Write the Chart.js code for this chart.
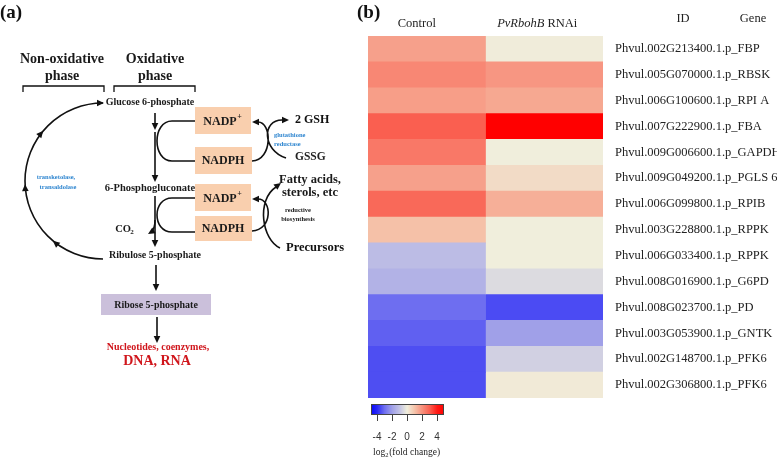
<!DOCTYPE html>
<html>
<head>
<meta charset="utf-8">
<script src="https://cdn.jsdelivr.net/npm/chart.js@4"></script>
<style>
  body { margin: 0; background: #fff; }
</style>
</head>
<body>
<canvas id="heat" width="777" height="459"></canvas>
<script>
// genes (row labels) and log2 fold change
var genes = [
  "Phvul.002G213400.1.p_FBP",
  "Phvul.005G070000.1.p_RBSK",
  "Phvul.006G100600.1.p_RPI A",
  "Phvul.007G222900.1.p_FBA",
  "Phvul.009G006600.1.p_GAPDH",
  "Phvul.009G049200.1.p_PGLS 6",
  "Phvul.006G099800.1.p_RPIB",
  "Phvul.003G228800.1.p_RPPK",
  "Phvul.006G033400.1.p_RPPK",
  "Phvul.008G016900.1.p_G6PD",
  "Phvul.008G023700.1.p_PD",
  "Phvul.003G053900.1.p_GNTK",
  "Phvul.002G148700.1.p_PFK6",
  "Phvul.002G306800.1.p_PFK6"
];
var controlFC = [1.7, 2.2, 1.75, 3.0, 2.5, 1.7, 2.8, 1.05, -1.2, -1.5, -3.0, -3.2, -3.45, -3.45];
var rnaiFC = [0.05, 1.9, 1.55, 5.0, 0.0, 0.45, 1.4, 0.0, 0.0, -0.45, -3.5, -2.0, -0.7, 0.1];
var colorTicks = [-4, -2, 0, 2, 4];

// colour scale stops (value, rgb)
var stops = [
  [-5, [0, 0, 255]], [-4, [40, 40, 245]], [-3, [110, 110, 240]], [-2, [160, 160, 232]],
  [-1, [195, 195, 228]], [0, [240, 238, 220]], [1, [245, 195, 170]], [2, [247, 145, 125]],
  [3, [250, 95, 80]], [4, [255, 25, 20]], [5, [255, 0, 0]]
];
function colorFor(v) {
  if (v <= stops[0][0]) return "rgb(" + stops[0][1].join(",") + ")";
  for (var i = 1; i < stops.length; i++) {
    if (v <= stops[i][0]) {
      var a = stops[i - 1], b = stops[i];
      var t = (v - a[0]) / (b[0] - a[0]);
      var c = a[1].map(function (x, k) { return Math.round(x + (b[1][k] - x) * t); });
      return "rgb(" + c.join(",") + ")";
    }
  }
  return "rgb(" + stops[stops.length - 1][1].join(",") + ")";
}

var serif = "'Liberation Serif', 'Times New Roman', serif";

function txt(c, s, x, y, font, color, align) {
  c.font = font;
  c.fillStyle = color || "#1a1a1a";
  c.textAlign = align || "center";
  c.textBaseline = "middle";
  c.fillText(s, x, y);
}
function head(c, x, y, ang) {
  c.save();
  c.fillStyle = "#111";
  c.translate(x, y);
  c.rotate(ang);
  c.beginPath();
  c.moveTo(0, 0);
  c.lineTo(-7, -3.3);
  c.lineTo(-7, 3.3);
  c.closePath();
  c.fill();
  c.restore();
}
function line(c, pts) {
  c.beginPath();
  c.moveTo(pts[0], pts[1]);
  c.lineTo(pts[2], pts[3]);
  c.stroke();
}
function nadp(c, x, y) {
  var f = "bold 12px " + serif;
  c.font = f;
  var w = c.measureText("NADP").width;
  txt(c, "NADP", x - 3 - w / 2, y + 1, f, "#1a1a1a", "left");
  txt(c, "+", x - 3 + w / 2 + 0.5, y - 4, "bold 8px " + serif, "#1a1a1a", "left");
}

// panel (a) pathway and panel (b) headers / colour key
var extras = {
  id: "extras",
  afterDraw: function (chart) {
    var c = chart.ctx;
    var xs = chart.scales.x;
    c.save();
    c.strokeStyle = "#111";
    c.fillStyle = "#111";
    c.lineWidth = 1.6;

    // ---- panel (a) ----
    txt(c, "(a)", 0, 13, "bold 19px " + serif, "#111", "left");
    txt(c, "Non-oxidative", 62, 59, "bold 14px " + serif);
    txt(c, "phase", 62, 76, "bold 14px " + serif);
    txt(c, "Oxidative", 155, 59, "bold 14px " + serif);
    txt(c, "phase", 155, 76, "bold 14px " + serif);
    c.lineWidth = 1.3;
    c.beginPath();
    c.moveTo(23, 92); c.lineTo(23, 86); c.lineTo(104, 86); c.lineTo(104, 92);
    c.moveTo(114, 92); c.lineTo(114, 86); c.lineTo(195, 86); c.lineTo(195, 92);
    c.stroke();
    c.lineWidth = 1.6;

    txt(c, "Glucose 6-phosphate", 150, 102, "bold 10px " + serif);
    line(c, [155, 113, 155, 124]); head(c, 155, 130, Math.PI / 2);
    line(c, [155, 132, 155, 176]); head(c, 155, 182, Math.PI / 2);
    txt(c, "6-Phosphogluconate", 150, 188, "bold 10.5px " + serif);
    line(c, [155, 196, 155, 241]); head(c, 155, 247, Math.PI / 2);
    txt(c, "Ribulose 5-phosphate", 155, 255, "bold 10px " + serif);
    line(c, [156, 265, 156, 285]); head(c, 156, 291, Math.PI / 2);

    // boxes
    c.fillStyle = "#f9cfae";
    c.fillRect(195, 107, 56, 27);
    c.fillRect(195, 147, 57, 27);
    c.fillRect(195, 184, 56, 27);
    c.fillRect(195, 216, 57, 25);
    c.fillStyle = "#cbc0db";
    c.fillRect(101, 294, 110, 21);
    c.fillStyle = "#111";
    nadp(c, 223, 121);
    txt(c, "NADPH", 223, 161, "bold 12px " + serif);
    nadp(c, 223, 198);
    txt(c, "NADPH", 223, 229, "bold 12px " + serif);
    txt(c, "Ribose 5-phosphate", 156, 305, "bold 10px " + serif);

    // C-shaped curves on the left of the boxes
    c.beginPath();
    c.moveTo(195, 121); c.lineTo(172, 121);
    c.bezierCurveTo(152, 121, 152, 161, 172, 161); c.lineTo(195, 161);
    c.moveTo(195, 198); c.lineTo(172, 198);
    c.bezierCurveTo(152, 198, 152, 232, 172, 232); c.lineTo(195, 232);
    c.stroke();

    // right side curves
    c.beginPath();
    c.moveTo(252, 161); c.bezierCurveTo(273, 160, 272, 122, 258, 122);
    c.moveTo(286, 158); c.bezierCurveTo(262, 150, 262, 120, 282, 120);
    c.moveTo(252, 231); c.bezierCurveTo(273, 230, 272, 199, 258, 199);
    c.moveTo(280, 248); c.bezierCurveTo(262, 240, 256, 200, 276, 187);
    c.stroke();
    head(c, 252, 122, Math.PI);
    head(c, 289, 120, 0);
    head(c, 252, 199, Math.PI);
    head(c, 281, 183, -0.65);

    txt(c, "2 GSH", 295, 120, "bold 12px " + serif, "#111", "left");
    txt(c, "GSSG", 295, 157, "bold 11.5px " + serif, "#222", "left");
    txt(c, "glutathione", 274, 135, "bold 6.5px " + serif, "#2f86d0", "left");
    txt(c, "reductase", 274, 144, "bold 6.5px " + serif, "#2f86d0", "left");
    txt(c, "Fatty acids,", 310, 180, "bold 12.5px " + serif);
    txt(c, "sterols, etc", 310, 193, "bold 12.5px " + serif);
    txt(c, "reductive", 298, 210, "bold 6.5px " + serif);
    txt(c, "biosynthesis", 298, 219, "bold 6.5px " + serif);
    txt(c, "Precursors", 286, 248, "bold 12.5px " + serif, "#111", "left");

    // CO2 branch
    txt(c, "CO", 123, 229, "bold 10.5px " + serif);
    txt(c, "2", 132, 232, "bold 7px " + serif);
    c.beginPath();
    c.moveTo(155, 220); c.quadraticCurveTo(155, 229, 151, 232);
    c.stroke();
    head(c, 148, 234, 2.6);

    // ribose -> nucleotides
    line(c, [157, 317, 157, 337]); head(c, 157, 343, Math.PI / 2);
    txt(c, "Nucleotides, coenzymes,", 158, 347, "bold 10px " + serif, "#d0161c");
    txt(c, "DNA, RNA", 157, 361, "bold 14px " + serif, "#d0161c");

    // non-oxidative cycle
    var cx = 103, cy = 181, r = 78;
    c.beginPath();
    c.arc(cx, cy, r, Math.PI / 2, Math.PI * 1.5);
    c.stroke();
    head(c, 104, 103, 0);
    [2.27, 3.1, 3.84].forEach(function (t) {
      head(c, cx + r * Math.cos(t), cy + r * Math.sin(t), t + Math.PI / 2);
    });
    txt(c, "transketolase,", 56, 177, "bold 6.5px " + serif, "#2f86d0");
    txt(c, "transaldolase", 58, 187, "bold 6.5px " + serif, "#2f86d0");

    // ---- panel (b) ----
    txt(c, "(b)", 357, 13, "bold 19px " + serif, "#111", "left");
    txt(c, "Control", xs.getPixelForValue(0.5) - 10, 24, "12.5px " + serif, "#222");
    c.font = "italic 12.5px " + serif;
    var w1 = c.measureText("PvRbohB").width;
    c.font = "12.5px " + serif;
    var w2 = c.measureText(" RNAi").width;
    var x0 = xs.getPixelForValue(1.5) - 7 - (w1 + w2) / 2;
    txt(c, "PvRbohB", x0, 24, "italic 12.5px " + serif, "#222", "left");
    txt(c, " RNAi", x0 + w1, 24, "12.5px " + serif, "#222", "left");
    txt(c, "ID", 683, 19, "12.5px " + serif, "#222");
    txt(c, "Gene", 753, 19, "12.5px " + serif, "#222");

    // colour key
    var kx0 = 371, kx1 = 444, ky = 404, kh = 10;
    for (var px = kx0; px < kx1; px++) {
      var v = -4.8 + (px + 0.5 - kx0) / (kx1 - kx0) * 9.7;
      c.fillStyle = colorFor(v);
      c.fillRect(px, ky, 1, kh);
    }
    c.strokeStyle = "#444";
    c.lineWidth = 1;
    c.strokeRect(kx0 + 0.5, ky + 0.5, kx1 - kx0 - 1, kh);
    colorTicks.forEach(function (t) {
      var px = 407 + t * 7.5;
      c.beginPath();
      c.moveTo(px + 0.5, ky + kh);
      c.lineTo(px + 0.5, ky + kh + 7);
      c.stroke();
      txt(c, String(t), px, 437, "10px 'Liberation Sans Narrow', 'Liberation Sans', sans-serif", "#333");
    });
    c.font = "9.5px " + serif;
    var lw = c.measureText("log").width;
    txt(c, "log", 373, 452, "9.5px " + serif, "#222", "left");
    txt(c, "2", 373 + lw, 455, "6.5px " + serif, "#222", "left");
    txt(c, "(fold change)", 377 + lw, 452, "9.5px " + serif, "#222", "left");
    c.restore();
  }
};

var ctx = document.getElementById("heat").getContext("2d");
var heat = new Chart(ctx, {
  type: "bar",
  data: {
    labels: genes,
    datasets: [
      {
        label: "Control",
        data: genes.map(function () { return 1; }),
        backgroundColor: controlFC.map(colorFor),
        barPercentage: 1,
        categoryPercentage: 1,
        borderWidth: 0,
      },
      {
        label: "PvRbohB RNAi",
        data: genes.map(function () { return 1; }),
        backgroundColor: rnaiFC.map(colorFor),
        barPercentage: 1,
        categoryPercentage: 1,
        borderWidth: 0,
      },
    ],
  },
  options: {
    indexAxis: "y",
    responsive: false,
    animation: false,
    layout: { padding: { left: 368, top: 36, bottom: 61, right: 0 } },
    plugins: { legend: { display: false }, tooltip: { enabled: false } },
    scales: {
      x: { stacked: true, min: 0, max: 2, display: false },
      y: {
        stacked: true,
        position: "right",
        grid: { display: false, drawTicks: false },
        border: { display: false },
        ticks: { padding: 12, color: "#222", font: { family: "'Liberation Serif'", size: 12.5 } },
        afterFit: function (s) { s.width = 174; },
      },
    },
  },
  plugins: [extras],
});
</script>
</body>
</html>
